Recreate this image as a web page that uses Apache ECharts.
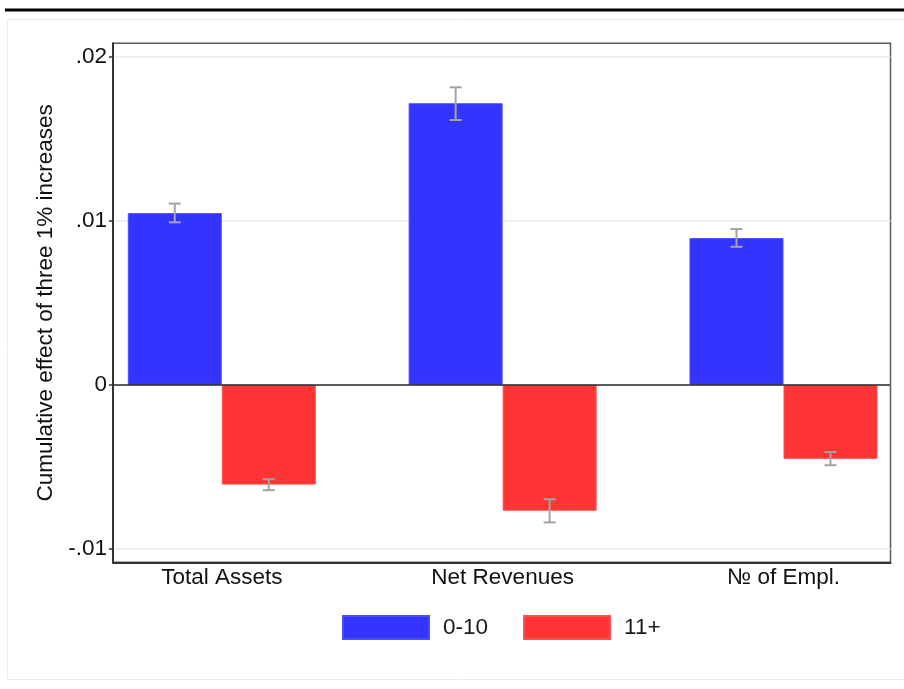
<!DOCTYPE html>
<html>
<head>
<meta charset="utf-8">
<script src="https://cdn.jsdelivr.net/npm/echarts@6/dist/echarts.min.js"></script>
<style>
  html, body { margin: 0; padding: 0; background: #ffffff; }
  #chart { width: 904px; height: 689px; }
</style>
</head>
<body>
<div id="chart"></div>
<script>
// Firm-size groups compared across three outcomes
const categories = ['Total Assets', 'Net Revenues', '№ of Empl.'];
const groupNames = ['0-10', '11+'];

// Point estimates and confidence bounds, group 0-10
const small = [0.01046, 0.01715, 0.00894];
const smallLow = [0.00990, 0.01613, 0.00841];
const smallHigh = [0.01104, 0.01812, 0.00949];

// Point estimates and confidence bounds, group 11+
const large = [-0.00607, -0.00766, -0.00450];
const largeLow = [-0.00641, -0.00837, -0.00489];
const largeHigh = [-0.00574, -0.00696, -0.00409];

// Y axis ticks and their labels
const yTicks = [-0.01, 0, 0.01, 0.02];
const yTickLabels = ['-.01', '0', '.01', '.02'];

const yTitle = 'Cumulative effect of three 1% increases';

const BAR_WIDTH = 94;
const FONT = '"Liberation Sans", Arial, Helvetica, sans-serif';
const FONT_SIZE = 22.5;
const BLUE = '#3434ff';
const RED = '#ff3434';

const xPos = categories.map((_, i) => i);

function barData(vals) {
  return vals.map((v, i) => [xPos[i], v]);
}
function ciData(lo, hi) {
  return lo.map((l, i) => [xPos[i], l, hi[i]]);
}

// Capped whisker drawn at the centre of one bar of the pair
function errorBar(offset) {
  return function (params, api) {
    const x = api.value(0);
    const pLo = api.coord([x, api.value(1)]);
    const pHi = api.coord([x, api.value(2)]);
    const cx = pLo[0] + offset;
    const cap = 6;
    const style = { stroke: '#a3a3a3', lineWidth: 2 };
    return {
      type: 'group',
      children: [
        { type: 'line', shape: { x1: cx, y1: pLo[1], x2: cx, y2: pHi[1] }, style },
        { type: 'line', shape: { x1: cx - cap, y1: pLo[1], x2: cx + cap, y2: pLo[1] }, style },
        { type: 'line', shape: { x1: cx - cap, y1: pHi[1], x2: cx + cap, y2: pHi[1] }, style }
      ]
    };
  };
}

const chart = echarts.init(document.getElementById('chart'), null, { renderer: 'canvas' });

chart.setOption({
  animation: false,
  backgroundColor: '#ffffff',
  textStyle: { fontFamily: FONT },
  graphic: [
    { type: 'line', shape: { x1: 5, y1: 10, x2: 904, y2: 10 }, style: { stroke: '#000', lineWidth: 3 }, z: 10 },
    { type: 'rect', shape: { x: 7.5, y: 19.5, width: 1000, height: 660 }, style: { fill: 'none', stroke: '#ececec', lineWidth: 1 }, z: -1 }
  ],
  grid: {
    left: 113,
    right: 13.5,
    top: 43.3,
    bottom: 126.7,
    show: true,
    borderColor: '#5a5a5a',
    borderWidth: 1.5
  },
  legend: {
    data: groupNames,
    left: 342,
    top: 615,
    padding: 0,
    itemWidth: 86,
    itemHeight: 23,
    itemGap: 35,
    icon: 'rect',
    textStyle: { fontSize: FONT_SIZE, color: '#1a1a1a', fontFamily: FONT, padding: [0, 0, 0, 9] }
  },
  xAxis: {
    type: 'value',
    min: -0.3873,
    max: 2.381,
    axisLine: { show: true, onZero: false, lineStyle: { color: '#333', width: 2 } },
    axisTick: { show: false },
    splitLine: { show: false },
    axisLabel: {
      customValues: xPos,
      formatter: (v) => categories[Math.round(v)],
      fontSize: FONT_SIZE,
      color: '#111',
      margin: 4,
      fontFamily: FONT
    }
  },
  yAxis: {
    type: 'value',
    min: -0.0108,
    max: 0.0208,
    name: yTitle,
    nameLocation: 'middle',
    nameRotate: 90,
    nameGap: 56,
    nameTextStyle: { fontSize: FONT_SIZE, color: '#111', fontFamily: FONT },
    axisLine: { show: true, onZero: false, lineStyle: { color: '#333', width: 2 } },
    axisTick: { show: true, customValues: yTicks, length: 4, lineStyle: { color: '#333', width: 1.5 } },
    axisLabel: {
      customValues: yTicks,
      formatter: (v) => {
        const i = yTicks.findIndex((t) => Math.abs(t - v) < 1e-9);
        return i >= 0 ? yTickLabels[i] : '';
      },
      fontSize: FONT_SIZE,
      color: '#111',
      margin: 6,
      fontFamily: FONT
    },
    splitLine: { show: true, lineStyle: { color: '#e4edf0', width: 1.5 } }
  },
  series: [
    {
      name: groupNames[0],
      type: 'bar',
      data: barData(small),
      barWidth: BAR_WIDTH,
      barGap: '0%',
      itemStyle: { color: BLUE, borderColor: '#4d4dff', borderWidth: 1 },
      markLine: {
        silent: true,
        symbol: 'none',
        label: { show: false },
        lineStyle: { color: '#2a2a2a', width: 1.5, type: 'solid' },
        data: [{ yAxis: 0 }]
      },
      z: 2
    },
    {
      name: groupNames[1],
      type: 'bar',
      data: barData(large),
      barWidth: BAR_WIDTH,
      barGap: '0%',
      itemStyle: { color: RED, borderColor: '#ff5050', borderWidth: 1 },
      z: 2
    },
    {
      name: 'ci-small',
      type: 'custom',
      data: ciData(smallLow, smallHigh),
      renderItem: errorBar(-BAR_WIDTH / 2),
      encode: { x: 0, y: [1, 2] },
      z: 5
    },
    {
      name: 'ci-large',
      type: 'custom',
      data: ciData(largeLow, largeHigh),
      renderItem: errorBar(BAR_WIDTH / 2),
      encode: { x: 0, y: [1, 2] },
      z: 5
    }
  ]
});
</script>
</body>
</html>
